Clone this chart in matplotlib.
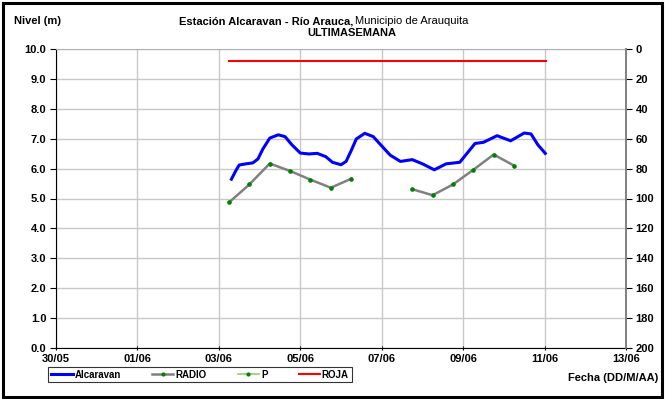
#-*- coding: utf-8 -*-

"""
  Nivel del rio - Estacion Alcaravan (ultima semana)
"""

import numpy as np
import matplotlib
matplotlib.use('Agg')
import matplotlib.pyplot as plt
import matplotlib.dates as mdates
from matplotlib.lines import Line2D
from matplotlib.patches import Rectangle

plt.rcParams['font.family'] = ['Liberation Sans', 'DejaVu Sans']

base = np.datetime64('2014-05-30T00:00')

# Alcaravan (m), horas desde 30/05 00:00
alc_h = [103, 106, 108, 112, 116, 119, 122, 126, 131, 135, 139, 144, 149, 154,
         159, 163, 168, 171, 174, 177, 182, 187, 191, 197, 203, 210, 216, 223,
         230, 238, 242, 247, 252, 260, 268, 276, 280, 284, 289]
alc_v = [5.60, 5.93, 6.12, 6.16, 6.19, 6.32, 6.66, 7.02, 7.13, 7.07, 6.80, 6.52,
         6.49, 6.51, 6.40, 6.21, 6.13, 6.24, 6.60, 6.99, 7.18, 7.07, 6.82, 6.45,
         6.24, 6.30, 6.16, 5.96, 6.16, 6.21, 6.49, 6.84, 6.88, 7.10, 6.93, 7.19,
         7.16, 6.80, 6.47]

# RADIO / P (m), dos tramos
radio1_h = [102, 114, 126, 138, 150, 162, 174]
radio1_v = [4.87, 5.47, 6.17, 5.92, 5.63, 5.36, 5.66]
radio2_h = [210, 222, 234, 246, 258, 270]
radio2_v = [5.31, 5.11, 5.47, 5.96, 6.47, 6.10]

# cota roja
roja_h = [102, 289]
roja_v = [9.6, 9.6]

xticks_days = [0, 2, 4, 6, 8, 10, 12, 14]


def t(hours):
    return base + np.array(hours, dtype='timedelta64[h]')


fig = plt.figure(figsize=(6.65, 3.99), dpi=100)
ax = fig.add_axes([56/665, 1-348/399, 570/665, 299/399])

ax.plot(t(roja_h), roja_v, color='#ff0000', lw=1.5, zorder=3)
ax.plot(t(alc_h), alc_v, color='#0000ff', lw=2.2, zorder=4,
        solid_joinstyle='round', solid_capstyle='butt')
for hh, vv in [(radio1_h, radio1_v), (radio2_h, radio2_v)]:
    ax.plot(t(hh), vv, color='#808080', lw=1.8, zorder=3, solid_joinstyle='round')
    ax.plot(t(hh), vv, ls='none', marker='o', ms=2.3, color='#008000', zorder=5)

ax.set_ylim(0, 10)
ax.set_yticks(np.arange(0, 10.1, 1.0))
ax.set_yticklabels(['%.1f' % v for v in np.arange(0, 10.1, 1.0)])
ax.set_xlim(t([0])[0], t([14*24])[0])
ax.set_xticks(t([d*24 for d in xticks_days]))
ax.xaxis.set_major_formatter(mdates.DateFormatter('%d/%m'))
ax.grid(True, color='#c8c8c8', lw=1)
ax.set_axisbelow(True)

for lab in ax.get_xticklabels() + ax.get_yticklabels():
    lab.set_fontweight('bold')
ax.tick_params(axis='y', labelsize=8, length=4, width=0.8, pad=3)
ax.tick_params(axis='x', labelsize=8, length=3, direction='inout', width=0.8, pad=3)
ax.spines['top'].set_color('#b0b0b0')
ax.spines['right'].set_color('#808080')
ax.spines['right'].set_linewidth(1.2)
ax.spines['left'].set_linewidth(0.8)
ax.spines['bottom'].set_linewidth(0.8)

ax2 = ax.twinx()
ax2.set_ylim(200, 0)
ax2.set_yticks(np.arange(0, 201, 20))
ax2.tick_params(axis='y', labelsize=8, length=4, width=0.8, pad=3, colors='black')
for lab in ax2.get_yticklabels():
    lab.set_fontweight('bold')
for s in ['top', 'left', 'bottom']:
    ax2.spines[s].set_visible(False)
ax2.spines['right'].set_color('#808080')
ax2.spines['right'].set_linewidth(1.2)

# titulos
fig.text(14/665, 1-21/399, 'Nivel (m)', fontsize=8, fontweight='bold', va='center')
fig.text(0.5315, 1-21/399, 'Estación Alcaravan - Río Arauca,', fontsize=8,
         fontweight='bold', ha='right', va='center')
fig.text(0.5335, 1-21/399, 'Municipio de Arauquita', fontsize=8, ha='left', va='center')
fig.text(352/665, 1-33/399, 'ULTIMASEMANA', fontsize=8, fontweight='bold',
         ha='center', va='center')
fig.text(658/665, 1-378/399, 'Fecha (DD/M/AA)', fontsize=8, fontweight='bold',
         ha='right', va='center')

handles = [
    Line2D([], [], color='#0000ff', lw=2.2),
    Line2D([], [], color='#808080', lw=1.8, marker='o', ms=2, mfc='#008000', mec='#008000'),
    Line2D([], [], color='#99cc66', lw=1.2, marker='o', ms=2, mfc='#008000', mec='#008000'),
    Line2D([], [], color='#ff0000', lw=1.5),
]
leg = fig.legend(handles, ['Alcaravan', 'RADIO', 'P', 'ROJA'], ncol=4,
                 loc='center', bbox_to_anchor=(200/665, 1-374.5/399),
                 frameon=True, fancybox=False, handlelength=2.2,
                 handletextpad=0.2, columnspacing=3.2, borderpad=0.3,
                 prop={'weight': 'bold', 'size': 7})
leg.get_frame().set_edgecolor('black')
leg.get_frame().set_linewidth(0.8)

fig.patches.append(Rectangle((0.004, 0.004), 0.992, 0.988, transform=fig.transFigure,
                             fill=False, edgecolor='black', lw=2.2))

fig.savefig('out.png', dpi=100)
